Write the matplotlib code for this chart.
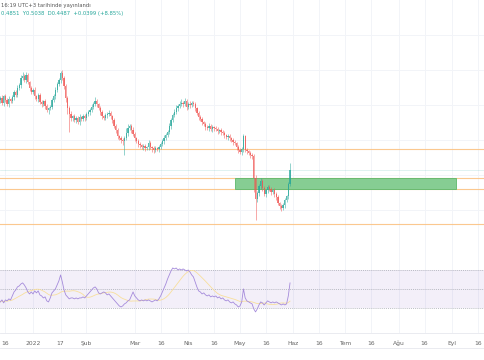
import matplotlib
matplotlib.use("Agg")
import matplotlib.pyplot as plt
import matplotlib.dates as mdates
import numpy as np
import pandas as pd

# daily candles, 13 Dec 2021 .. 30 May 2022
start_date = "2021-12-13"
first_open = 0.630
closes = [
    0.634, 0.624, 0.638, 0.630, 0.622, 0.632, 0.628, 0.636, 0.646, 0.640, 0.654, 0.660, 0.674,
    0.678, 0.670, 0.680, 0.666, 0.654, 0.646, 0.650, 0.638, 0.632, 0.640, 0.626, 0.622, 0.628,
    0.618, 0.610, 0.614, 0.616, 0.630, 0.638, 0.650, 0.662, 0.670, 0.684, 0.674, 0.658, 0.634,
    0.614, 0.602, 0.594, 0.598, 0.590, 0.594, 0.586, 0.596, 0.592, 0.598, 0.594, 0.602, 0.606,
    0.610, 0.616, 0.622, 0.628, 0.622, 0.614, 0.606, 0.598, 0.594, 0.600, 0.602, 0.604, 0.598,
    0.590, 0.578, 0.570, 0.558, 0.554, 0.550, 0.548, 0.554, 0.564, 0.574, 0.578, 0.570, 0.562,
    0.554, 0.548, 0.542, 0.540, 0.536, 0.538, 0.534, 0.536, 0.544, 0.536, 0.534, 0.530, 0.534,
    0.532, 0.536, 0.542, 0.548, 0.554, 0.560, 0.566, 0.578, 0.590, 0.600, 0.606, 0.614, 0.618,
    0.622, 0.624, 0.622, 0.628, 0.616, 0.622, 0.620, 0.624, 0.622, 0.614, 0.604, 0.596, 0.592,
    0.586, 0.582, 0.576, 0.574, 0.578, 0.572, 0.576, 0.574, 0.572, 0.568, 0.570, 0.566, 0.564,
    0.560, 0.556, 0.558, 0.554, 0.550, 0.546, 0.544, 0.536, 0.530, 0.526, 0.532, 0.558, 0.530,
    0.528, 0.524, 0.520, 0.518, 0.474, 0.432, 0.444, 0.458, 0.468, 0.454, 0.442, 0.450, 0.456,
    0.452, 0.446, 0.450, 0.442, 0.436, 0.424, 0.418, 0.414, 0.420, 0.430, 0.438, 0.462, 0.490,
]
wick_up = [
    0.004, 0.006, 0.003, 0.005, 0.004, 0.006, 0.003, 0.004, 0.005, 0.004, 0.006, 0.004, 0.006,
    0.008, 0.005, 0.006, 0.004, 0.003, 0.005, 0.004, 0.006, 0.003, 0.004, 0.005, 0.004, 0.003,
    0.004, 0.005, 0.003, 0.004, 0.005, 0.004, 0.006, 0.005, 0.004, 0.004, 0.006, 0.005, 0.004,
    0.005, 0.004, 0.006, 0.003, 0.004, 0.005, 0.004, 0.006, 0.003, 0.004, 0.005, 0.004, 0.005,
    0.004, 0.006, 0.005, 0.008, 0.004, 0.003, 0.005, 0.004, 0.003, 0.005, 0.004, 0.006, 0.004,
    0.003, 0.004, 0.005, 0.004, 0.003, 0.004, 0.005, 0.004, 0.010, 0.008, 0.005, 0.004, 0.006,
    0.004, 0.003, 0.005, 0.004, 0.003, 0.004, 0.005, 0.003, 0.006, 0.004, 0.003, 0.004, 0.005,
    0.003, 0.004, 0.005, 0.004, 0.006, 0.005, 0.004, 0.006, 0.005, 0.004, 0.006, 0.007, 0.005,
    0.006, 0.008, 0.005, 0.006, 0.004, 0.005, 0.006, 0.004, 0.005, 0.004, 0.003, 0.004, 0.005,
    0.004, 0.003, 0.005, 0.004, 0.006, 0.004, 0.005, 0.003, 0.004, 0.005, 0.003, 0.004, 0.005,
    0.004, 0.003, 0.005, 0.004, 0.003, 0.004, 0.005, 0.003, 0.004, 0.005, 0.004, 0.004, 0.003,
    0.004, 0.003, 0.005, 0.004, 0.004, 0.006, 0.005, 0.004, 0.006, 0.005, 0.004, 0.003, 0.005,
    0.004, 0.005, 0.003, 0.004, 0.005, 0.004, 0.003, 0.004, 0.005, 0.004, 0.003, 0.004, 0.014,
]
wick_down = [
    0.005, 0.004, 0.006, 0.003, 0.004, 0.005, 0.004, 0.003, 0.005, 0.004, 0.003, 0.004, 0.005,
    0.004, 0.003, 0.005, 0.004, 0.006, 0.004, 0.003, 0.005, 0.004, 0.006, 0.004, 0.005, 0.003,
    0.005, 0.004, 0.008, 0.004, 0.003, 0.004, 0.005, 0.003, 0.004, 0.005, 0.004, 0.006, 0.008,
    0.012, 0.036, 0.006, 0.005, 0.004, 0.006, 0.004, 0.005, 0.003, 0.004, 0.005, 0.003, 0.004,
    0.005, 0.004, 0.003, 0.004, 0.005, 0.004, 0.006, 0.005, 0.004, 0.003, 0.005, 0.004, 0.006,
    0.005, 0.004, 0.006, 0.005, 0.004, 0.006, 0.008, 0.028, 0.004, 0.005, 0.004, 0.005, 0.004,
    0.005, 0.004, 0.006, 0.005, 0.004, 0.006, 0.005, 0.004, 0.005, 0.004, 0.008, 0.005, 0.004,
    0.004, 0.005, 0.003, 0.004, 0.005, 0.004, 0.003, 0.004, 0.005, 0.004, 0.003, 0.004, 0.005,
    0.004, 0.003, 0.005, 0.004, 0.006, 0.004, 0.005, 0.004, 0.003, 0.005, 0.004, 0.006, 0.004,
    0.005, 0.004, 0.006, 0.004, 0.005, 0.004, 0.006, 0.005, 0.004, 0.005, 0.004, 0.006, 0.004,
    0.005, 0.004, 0.006, 0.005, 0.004, 0.005, 0.004, 0.006, 0.005, 0.004, 0.006, 0.005, 0.004,
    0.005, 0.004, 0.006, 0.005, 0.028, 0.042, 0.006, 0.005, 0.006, 0.005, 0.004, 0.006, 0.005,
    0.004, 0.005, 0.004, 0.006, 0.005, 0.004, 0.005, 0.006, 0.004, 0.005, 0.004, 0.006, 0.004,
]
rsi = [
    36.4, 38.5, 35.4, 38.5, 37.5, 39.6, 38.5, 42.7, 46.9, 49.0, 52.2, 53.2, 55.3,
    56.4, 54.2, 51.1, 46.9, 44.8, 46.9, 44.8, 48.0, 45.9, 48.0, 43.8, 42.7, 40.6,
    41.7, 37.5, 36.4, 40.6, 45.9, 48.0, 50.1, 54.2, 58.5, 64.8, 57.4, 49.0, 43.8,
    41.7, 39.6, 40.6, 40.6, 39.6, 40.6, 39.6, 40.6, 40.6, 41.7, 40.6, 42.7, 44.8,
    46.9, 49.0, 51.1, 52.2, 50.1, 45.9, 44.8, 45.9, 46.9, 45.9, 43.8, 44.8, 42.7,
    40.6, 38.5, 36.4, 34.3, 32.2, 31.1, 32.2, 34.3, 35.4, 37.5, 38.5, 42.7, 46.9,
    42.7, 40.6, 38.5, 37.5, 38.5, 37.5, 38.5, 37.5, 38.5, 37.5, 36.4, 37.5, 38.5,
    37.5, 39.6, 42.7, 46.9, 51.1, 55.3, 60.5, 64.8, 69.0, 72.1, 71.1, 72.1, 70.0,
    71.1, 70.0, 71.1, 70.0, 69.0, 70.0, 67.9, 64.8, 62.7, 57.4, 52.2, 48.0, 46.9,
    44.8, 45.9, 43.8, 42.7, 43.8, 41.7, 42.7, 41.7, 42.7, 40.6, 41.7, 39.6, 40.6,
    38.5, 37.5, 38.5, 36.4, 35.4, 36.4, 34.3, 33.2, 31.1, 32.2, 36.4, 50.1, 40.6,
    37.5, 36.4, 35.4, 34.3, 29.0, 25.9, 29.0, 33.2, 36.4, 35.4, 33.2, 35.4, 37.5,
    36.4, 35.4, 36.4, 35.4, 36.4, 35.4, 34.3, 33.2, 34.3, 33.2, 34.3, 42.7, 56.4,
]

levels = [0.532, 0.474, 0.452, 0.382]
zone_start, zone_end = "2022-04-28", "2022-09-03"
zone_low, zone_high = 0.452, 0.474

tick_dates = ["2021-12-16", "2022-01-01", "2022-01-17", "2022-02-01", "2022-03-01",
              "2022-03-16", "2022-04-01", "2022-04-16", "2022-05-01", "2022-05-16",
              "2022-06-01", "2022-06-16", "2022-07-01", "2022-07-16", "2022-08-01",
              "2022-08-16", "2022-09-01", "2022-09-16"]
tick_labels = ["16", "2022", "17", "Şub", "Mar", "16", "Nis", "16", "May", "16",
               "Haz", "16", "Tem", "16", "Ağu", "16", "Eyl", "16"]

header1 = "16:19 UTC+3 tarihinde yayınlandı"
header2 = "0.4851  Y0.5038  D0.4487  +0.0399 (+8.85%)"

UP, DOWN = "#26a69a", "#ef5350"
GRID = "#f2f4f8"

dates = mdates.date2num(pd.date_range(start_date, periods=len(closes), freq="D"))
closes = np.array(closes)
opens = np.concatenate([[first_open], closes[:-1]])
highs = np.maximum(opens, closes) + np.array(wick_up)
lows = np.minimum(opens, closes) - np.array(wick_down)
rsi = pd.Series(rsi)
rsi_ma = rsi.rolling(14, min_periods=1).mean()

fig = plt.figure(figsize=(4.85, 3.6), dpi=100)
ax = fig.add_axes([0, 98 / 360, 1, 262 / 360])
ax_rsi = fig.add_axes([0, 27 / 360, 1, 71 / 360])

x0 = mdates.date2num(pd.Timestamp("2022-01-01")) - 33 / 1.725
x1 = x0 + 485 / 1.725
ticks = mdates.date2num(pd.to_datetime(tick_dates))

for a in (ax, ax_rsi):
    a.set_xlim(x0, x1)
    a.set_xticks(ticks)
    for t in ticks:
        a.axvline(t, color=GRID, lw=0.7, zorder=0)
    for s in a.spines.values():
        s.set_visible(False)
    a.tick_params(length=0)
    a.set_yticks([])

# price pane
ax.set_ylim(0.306, 0.83)
for yv in np.arange(0.41, 0.83, 0.07):
    ax.axhline(yv, color=GRID, lw=0.7, zorder=0)
ax.set_xticklabels([])

colors = np.where(closes >= opens, UP, DOWN)
ax.vlines(dates, lows, highs, colors=colors, lw=0.5, alpha=0.7, zorder=3)
body_bottom = np.minimum(opens, closes)
body_h = np.maximum(np.abs(closes - opens), 0.0015)
ax.bar(dates, body_h, bottom=body_bottom, width=0.75, color=colors, alpha=0.75,
       linewidth=0, zorder=4)

for lv in levels:
    ax.axhline(lv, color="#fbbf7c", lw=0.8, alpha=0.85, zorder=2)
ax.axhline(closes[-1], color=UP, lw=0.5, alpha=0.2, zorder=2)

zs, ze = mdates.date2num(pd.Timestamp(zone_start)), mdates.date2num(pd.Timestamp(zone_end))
ax.add_patch(plt.Rectangle((zs, zone_low), ze - zs, zone_high - zone_low,
                           facecolor="#86cd93", edgecolor="#5cb86a", lw=0.6, zorder=2.5))

# RSI pane
ax_rsi.set_ylim(3.7, 78.4)
ax_rsi.axhspan(30, 70, color="#7e57c2", alpha=0.09, lw=0, zorder=0)
for lv in (70, 50, 30):
    ax_rsi.axhline(lv, color="#a3a6af", lw=0.5, ls=(0, (1.5, 1.5)), zorder=1)
ax_rsi.plot(dates, rsi_ma, color="#f8df9c", lw=0.6, zorder=2)
ax_rsi.plot(dates, rsi, color="#a58bdb", lw=0.6, zorder=3)
ax_rsi.spines["bottom"].set_visible(True)
ax_rsi.spines["bottom"].set_color("#e6e8ee")
ax_rsi.spines["bottom"].set_linewidth(0.6)
ax_rsi.set_xticklabels(tick_labels, fontsize=4.3, color="#666666")
ax_rsi.tick_params(axis="x", pad=5.5)

fig.add_artist(plt.Line2D([0, 1], [12 / 360, 12 / 360], color="#e6e8ee", lw=0.6))

fig.text(1 / 485, 1 - 5 / 360, header1, fontsize=3.8, color="#555555", va="center")
fig.text(1 / 485, 1 - 13 / 360, header2, fontsize=3.8, color=UP, va="center")

fig.savefig("out.png", dpi=100)
